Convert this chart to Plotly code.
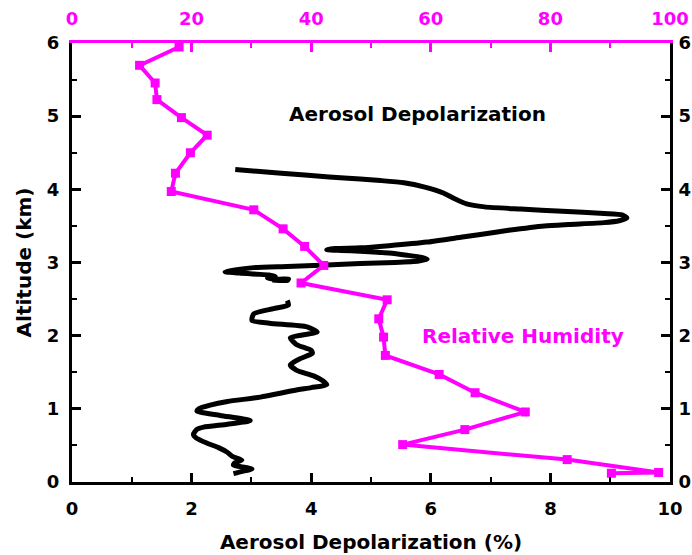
import plotly.graph_objects as go

# Aerosol depolarization profile (%), upper layer, listed from top down
depol_upper = [2.73, 3.5, 4.3, 4.82, 5.16, 5.55, 5.9, 6.21, 6.4, 6.6, 6.9, 7.5, 8.2, 8.9,
               9.2, 9.28, 9.15, 8.9, 8.3, 7.9, 7.3, 6.8, 6.5, 5.94, 5.3, 4.82, 4.4, 4.26,
               4.5, 4.82, 5.3, 5.6, 5.85, 5.94, 5.8, 5.4, 4.82, 4.26, 3.6, 3.04, 2.56,
               2.8, 3.1, 3.29, 3.40, 3.27, 3.45, 3.62, 3.60, 3.35]
alt_upper = [4.27, 4.22, 4.17, 4.14, 4.12, 4.09, 4.03, 3.95, 3.87, 3.80, 3.76, 3.73, 3.70, 3.67,
             3.65, 3.61, 3.57, 3.545, 3.52, 3.50, 3.44, 3.38, 3.345, 3.28, 3.23, 3.20, 3.19, 3.175,
             3.165, 3.155, 3.13, 3.10, 3.07, 3.045, 3.02, 3.0, 2.985, 2.965, 2.945, 2.93, 2.875,
             2.855, 2.84, 2.83, 2.81, 2.785, 2.77, 2.775, 2.755, 2.76]

# Aerosol depolarization profile (%), lower layer, listed from top down
depol_lower = [3.60, 3.62, 3.37, 3.04, 3.01, 3.3, 3.93, 4.10, 3.85, 3.65, 3.75, 4.0, 4.02, 3.80,
               3.65, 3.75, 4.04, 4.2, 4.26, 4.0, 3.71, 3.15, 2.6, 2.31, 2.12, 2.09, 2.48, 2.98,
               2.6, 2.2, 2.09, 2.03, 2.08, 2.26, 2.45, 2.59, 2.68, 2.84, 2.72, 2.70, 2.9, 3.01,
               2.85, 2.70]
alt_lower = [2.48, 2.42, 2.37, 2.30, 2.21, 2.17, 2.12, 2.05, 2.01, 1.97, 1.88, 1.80, 1.76, 1.68,
             1.60, 1.53, 1.45, 1.38, 1.33, 1.29, 1.25, 1.16, 1.10, 1.05, 1.00, 0.97, 0.91, 0.84,
             0.79, 0.75, 0.72, 0.65, 0.60, 0.53, 0.47, 0.41, 0.35, 0.30, 0.26, 0.23, 0.20, 0.18,
             0.145, 0.115]

# Relative humidity (%) from the sounding
rh = [17.9, 11.3, 13.9, 14.2, 18.3, 22.6, 19.8, 17.3, 16.6, 30.4, 35.3, 38.9, 42.1, 38.3,
      52.7, 51.3, 52.1, 52.4, 61.4, 67.4, 75.8, 65.7, 55.3, 82.8, 98.1, 90.2]
rh_alt = [5.945, 5.695, 5.453, 5.226, 4.98, 4.74, 4.50, 4.22, 3.97, 3.72, 3.46, 3.22, 2.96, 2.72,
          2.49, 2.23, 1.98, 1.73, 1.47, 1.22, 0.957, 0.716, 0.511, 0.306, 0.13, 0.12]

depol_ticks = [0, 2, 4, 6, 8, 10]
rh_ticks = [0, 20, 40, 60, 80, 100]
alt_ticks = [0, 1, 2, 3, 4, 5, 6]

MAGENTA = "#FF00FF"
FONT = "DejaVu Sans"

fig = go.Figure()

fig.add_trace(go.Scatter(
    x=depol_upper + [None] + depol_lower,
    y=alt_upper + [None] + alt_lower,
    mode="lines", line=dict(color="black", width=5, shape="spline", smoothing=0.6),
    connectgaps=False, xaxis="x", yaxis="y", showlegend=False, hoverinfo="skip",
))

fig.add_trace(go.Scatter(
    x=rh, y=rh_alt, mode="lines+markers",
    line=dict(color=MAGENTA, width=4),
    marker=dict(symbol="square", size=9, color=MAGENTA),
    xaxis="x2", yaxis="y", showlegend=False,
))

# transparent copy on the right-hand altitude axis so that axis is laid out
fig.add_trace(go.Scatter(
    x=depol_lower, y=alt_lower, mode="lines", opacity=0,
    xaxis="x", yaxis="y2", showlegend=False, hoverinfo="skip",
))

tickfont = dict(family=FONT, size=18, color="black", weight="bold")
titlefont = dict(family=FONT, size=20, color="black", weight="bold")

common = dict(showgrid=False, zeroline=False, showline=True, linewidth=3,
              ticks="inside", ticklen=9, tickwidth=2.5, automargin=False)

fig.update_layout(
    template="none",
    width=692, height=555,
    margin=dict(l=72, r=22, t=43, b=73, autoexpand=False),
    paper_bgcolor="white", plot_bgcolor="white",
    xaxis=dict(range=[0, 10], tickvals=depol_ticks, linecolor="black", tickcolor="black",
               tickfont=tickfont, ticklabelstandoff=8,
               minor=dict(dtick=1, ticks="inside", ticklen=5, tickwidth=2, tickcolor="black"),
               title=dict(text="Aerosol Depolarization (%)", font=titlefont, standoff=18),
               anchor="y", **common),
    xaxis2=dict(range=[0, 100], tickvals=rh_ticks, side="top", overlaying="x", anchor="y",
                linecolor=MAGENTA, tickcolor=MAGENTA,
                tickfont=dict(family=FONT, size=18, color=MAGENTA, weight="bold"),
                ticklabelstandoff=8,
                minor=dict(dtick=10, ticks="inside", ticklen=5, tickwidth=2, tickcolor=MAGENTA),
                **common),
    yaxis=dict(range=[0, 6], tickvals=alt_ticks, linecolor="black", tickcolor="black",
               tickfont=tickfont, ticklabelstandoff=6,
               minor=dict(dtick=0.5, ticks="inside", ticklen=5, tickwidth=2, tickcolor="black"),
               title=dict(text="Altitude (km)", font=titlefont, standoff=10),
               anchor="x", **common),
    yaxis2=dict(range=[0, 6], tickvals=alt_ticks, side="right", overlaying="y", anchor="x",
                linecolor="black", tickcolor="black", tickfont=tickfont, ticklabelstandoff=2,
                minor=dict(dtick=0.5, ticks="inside", ticklen=5, tickwidth=2, tickcolor="black"),
                **common),
    annotations=[
        dict(text="Aerosol Depolarization", x=5.77, y=5.03, xref="x", yref="y",
             showarrow=False, font=dict(family=FONT, size=20, color="black", weight="bold")),
        dict(text="Relative Humidity", x=7.54, y=2.0, xref="x", yref="y",
             showarrow=False, font=dict(family=FONT, size=20, color=MAGENTA, weight="bold")),
    ],
)

fig.write_html("out.html")
